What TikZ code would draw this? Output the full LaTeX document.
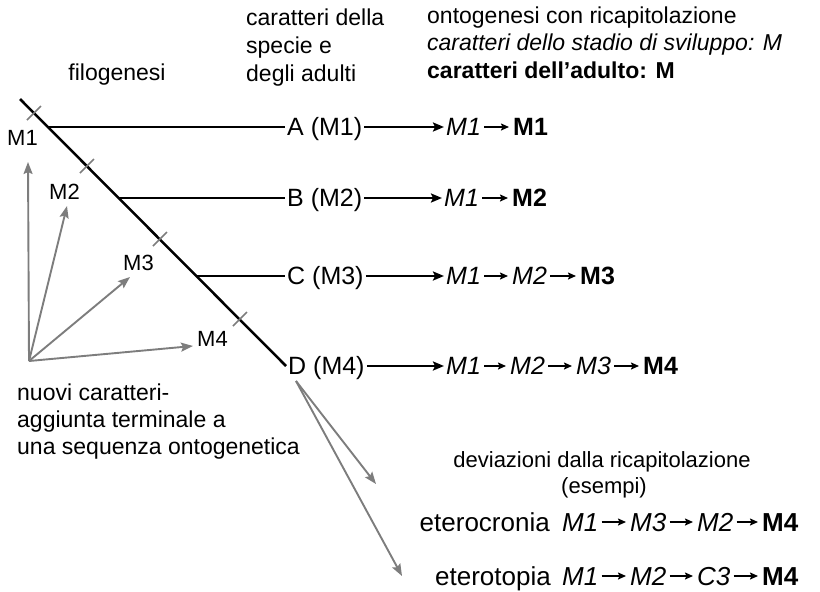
\documentclass[tikz,border=0pt]{standalone}
\usepackage{fontspec}
\setmainfont{Liberation Sans}
\usetikzlibrary{arrows.meta}
\definecolor{arrgray}{RGB}{125,125,125}
\tikzset{
  hdr/.style={font=\fontsize{23}{28}\selectfont, inner sep=0pt, anchor=base west},
  hdrc/.style={font=\fontsize{22}{26}\selectfont, inner sep=0pt, anchor=base},
  lbl/.style={font=\fontsize{25}{30}\selectfont, inner xsep=2pt, inner ysep=0pt, text height=17.9pt, text depth=0pt, anchor=west},
  big/.style={font=\fontsize{26}{30}\selectfont, inner xsep=2pt, inner ysep=0pt, text height=18.6pt, text depth=0pt, anchor=west},
  mk/.style={font=\fontsize{22}{26}\selectfont, inner sep=0pt, anchor=base west},
  mainline/.style={line width=2.5pt},
  arr/.style={-{Stealth[length=11pt,width=9pt,inset=2pt]}, line width=2.3pt},
  sarr/.style={-{Stealth[length=8pt,width=7pt,inset=1.5pt]}, line width=2pt, shorten >=2pt, shorten <=1pt},
  garr/.style={draw=arrgray, -{Stealth[length=12pt,width=9pt,inset=2pt]}, line width=1.9pt},
  tickmark/.style={draw=arrgray, line width=1.6pt}
}
\begin{document}
\begin{tikzpicture}[x=1pt,y=-1pt]
\useasboundingbox (0,0) rectangle (820,592);

% headers
\node[hdr, anchor=base] (filo) at (117,80) {filogenesi};
\node[hdr] (h1a) at (246,25) {caratteri della};
\node[hdr] (h1b) at (246,53) {specie e};
\node[hdr] (h1c) at (246,81) {degli adulti};
\node[hdr] (h2a) at (427,23) {ontogenesi con ricapitolazione};
\node[hdr] (h2b) at (427,50) {\itshape caratteri dello stadio di sviluppo: M};
\node[hdr] (h2c) at (427,78) {\bfseries caratteri dell’adulto: M};

% rows
\node[lbl] (A) at (285,127) {A (M1)};
\node[lbl] (A1) at (444,127) {\itshape M1};
\node[lbl] (A2) at (511,127) {\bfseries M1};

\node[lbl] (B) at (285,198) {B (M2)};
\node[lbl] (B1) at (442,198) {\itshape M1};
\node[lbl] (B2) at (510,198) {\bfseries M2};

\node[lbl] (C) at (285,276) {C (M3)};
\node[lbl] (C1) at (444,276) {\itshape M1};
\node[lbl] (C2) at (510,276) {\itshape M2};
\node[lbl] (C3) at (578,276) {\bfseries M3};

\node[lbl] (D) at (286,366) {D (M4)};
\node[lbl] (D1) at (444,366) {\itshape M1};
\node[lbl] (D2) at (508,366) {\itshape M2};
\node[lbl] (D3) at (574,366) {\itshape M3};
\node[lbl] (D4) at (641,366) {\bfseries M4};

\draw[arr] (A) -- (A1);
\draw[sarr] (A1) -- (A2);
\draw[arr] (B) -- (B1);
\draw[sarr] (B1) -- (B2);
\draw[arr] (C) -- (C1);
\draw[sarr] (C1) -- (C2);
\draw[sarr] (C2) -- (C3);
\draw[arr] (D) -- (D1);
\draw[sarr] (D1) -- (D2);
\draw[sarr] (D2) -- (D3);
\draw[sarr] (D3) -- (D4);

% main phylogeny line
\coordinate (top) at (20,99);
\coordinate (pA) at (48,127);
\coordinate (pB) at (119,198);
\coordinate (pC) at (197,276);
\draw[mainline] (top) -- (D.west);
\draw[mainline] (pA) -- (A.west);
\draw[mainline] (pB) -- (B.west);
\draw[mainline] (pC) -- (C.west);

% ticks
\coordinate (t1) at (34,113);
\coordinate (t2) at (87,166);
\coordinate (t3) at (160,239);
\coordinate (t4) at (240,319);
\foreach \t in {t1,t2,t3,t4}
  \draw[tickmark] ([shift={(-7,7)}]\t) -- ([shift={(7,-7)}]\t);

% M labels
\node[mk] (m1) at (7,145) {M1};
\node[mk] (m2) at (49,199) {M2};
\node[mk] (m3) at (123,270) {M3};
\node[mk] (m4) at (197,346) {M4};

% gray arrows of new characters
\coordinate (o) at (29,361);
\coordinate (g1) at (28,162);
\coordinate (g2) at (67,206);
\coordinate (g3) at (130,277);
\coordinate (g4) at (193,346);
\draw[garr] (o) -- (g1);
\draw[garr] (o) -- (g2);
\draw[garr] (o) -- (g3);
\draw[garr] (o) -- (g4);

\node[hdr] (n1) at (17,400) {nuovi caratteri-};
\node[hdr] (n2) at (17,427) {aggiunta terminale a};
\node[hdr] (n3) at (17,454) {una sequenza ontogenetica};

% deviations
\coordinate (ds) at (296,381);
\coordinate (d1) at (376,484);
\coordinate (d2) at (402,576);
\draw[garr] (ds) -- (d1);
\draw[garr] (ds) -- (d2);

\node[hdrc] (dev1) at (602,467) {deviazioni dalla ricapitolazione};
\node[hdrc] (dev2) at (604,493) {(esempi)};

\node[big, anchor=east] (ec) at (552,522) {eterocronia};
\node[big] (E1) at (560,522) {\itshape M1};
\node[big] (E2) at (628,522) {\itshape M3};
\node[big] (E3) at (695,522) {\itshape M2};
\node[big] (E4) at (760,522) {\bfseries M4};
\draw[sarr] (E1) -- (E2);
\draw[sarr] (E2) -- (E3);
\draw[sarr] (E3) -- (E4);

\node[big, anchor=east] (et) at (553,576) {eterotopia};
\node[big] (T1) at (560,576) {\itshape M1};
\node[big] (T2) at (628,576) {\itshape M2};
\node[big] (T3) at (695,576) {\itshape C3};
\node[big] (T4) at (760,576) {\bfseries M4};
\draw[sarr] (T1) -- (T2);
\draw[sarr] (T2) -- (T3);
\draw[sarr] (T3) -- (T4);
\end{tikzpicture}
\end{document}
